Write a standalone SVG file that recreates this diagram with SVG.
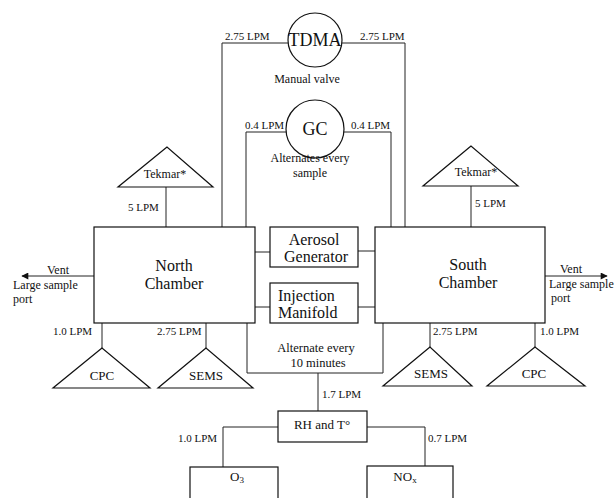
<svg xmlns="http://www.w3.org/2000/svg" width="615" height="498" viewBox="0 0 615 498">
<defs>
<style>
.bg{fill:#fff}
.ln{fill:none;stroke:#222;stroke-width:1}
.bx{fill:#fff;stroke:#111;stroke-width:1.2}
.t{font-family:"Liberation Serif","Times New Roman",serif;fill:#111}
.s11{font-size:11px}
.s12{font-size:12px}
.s125{font-size:12.5px}
.s13{font-size:13px}
.s16{font-size:16px}
.s18{font-size:18px}
.m{text-anchor:middle}
</style>
<marker id="ah" viewBox="0 0 10 10" refX="9" refY="5" markerWidth="9" markerHeight="7" orient="auto" markerUnits="userSpaceOnUse">
<path d="M0,0 L10,5 L0,10 z" fill="#111"/>
</marker>
</defs>
<rect class="bg" x="0" y="0" width="615" height="498"/>

<g id="connectors">
<polyline class="ln" points="222,227 222,43 288,43"/>
<polyline class="ln" points="342,43 405,43 405,227"/>
<polyline class="ln" points="246,227 246,132 287,132"/>
<polyline class="ln" points="343,132 391,132 391,227"/>
<line class="ln" x1="166" y1="187" x2="166" y2="227"/>
<line class="ln" x1="471" y1="186" x2="471" y2="227"/>
<line class="ln" x1="255" y1="252" x2="270" y2="252"/>
<line class="ln" x1="358" y1="251" x2="375" y2="251"/>
<line class="ln" x1="255" y1="307" x2="270" y2="307"/>
<line class="ln" x1="358" y1="307" x2="375" y2="307"/>
<line class="ln" x1="94" y1="276" x2="22" y2="276" marker-end="url(#ah)"/>
<line class="ln" x1="545" y1="276" x2="607" y2="276" marker-end="url(#ah)"/>
<line class="ln" x1="102" y1="323" x2="102" y2="348"/>
<line class="ln" x1="206" y1="323" x2="206" y2="348"/>
<line class="ln" x1="430" y1="323" x2="430" y2="347"/>
<line class="ln" x1="535" y1="323" x2="535" y2="347"/>
<polyline class="ln" points="247,323 247,373 383,373 383,323"/>
<line class="ln" x1="318" y1="373" x2="318" y2="411"/>
<polyline class="ln" points="278,427 223,427 223,467"/>
<polyline class="ln" points="367,427 425,427 425,466"/>
</g>

<g id="tdma">
<circle class="bx" cx="315" cy="40" r="27"/>
<text class="t s18 m" x="315" y="46">TDMA</text>
</g>
<g id="gc">
<circle class="bx" cx="315" cy="129" r="29"/>
<text class="t s18 m" x="315" y="135">GC</text>
</g>

<g id="tekmar-north">
<polygon class="bx" points="167,147 118,187 213,187"/>
<text class="t s12 m" x="165" y="178">Tekmar*</text>
</g>
<g id="tekmar-south">
<polygon class="bx" points="471,146 423,186 518,186"/>
<text class="t s12 m" x="476" y="176">Tekmar*</text>
</g>

<g id="north-chamber">
<rect class="bx" x="94" y="227" width="161" height="96"/>
<text class="t s16 m" x="174" y="271">North</text>
<text class="t s16 m" x="174" y="289">Chamber</text>
</g>
<g id="south-chamber">
<rect class="bx" x="375" y="227" width="170" height="96"/>
<text class="t s16 m" x="468" y="270">South</text>
<text class="t s16 m" x="468" y="288">Chamber</text>
</g>

<g id="aerosol-generator">
<rect class="bx" x="270" y="227" width="88" height="40"/>
<text class="t s16 m" x="314" y="245">Aerosol</text>
<text class="t s16 m" x="316" y="262">Generator</text>
</g>
<g id="injection-manifold">
<rect class="bx" x="270" y="283" width="88" height="40"/>
<text class="t s16" x="278" y="301">Injection</text>
<text class="t s16" x="278" y="318">Manifold</text>
</g>

<g id="cpc-north">
<polygon class="bx" points="102,348 53,388 150,388"/>
<text class="t s13 m" x="102" y="380">CPC</text>
</g>
<g id="sems-north">
<polygon class="bx" points="206,348 158,388 253,388"/>
<text class="t s13 m" x="206" y="380">SEMS</text>
</g>
<g id="sems-south">
<polygon class="bx" points="430,347 383,386 472,386"/>
<text class="t s13 m" x="431" y="378">SEMS</text>
</g>
<g id="cpc-south">
<polygon class="bx" points="535,347 487,386 585,386"/>
<text class="t s13 m" x="534" y="378">CPC</text>
</g>

<g id="rh-t">
<rect class="bx" x="278" y="411" width="89" height="31"/>
<text class="t s13 m" x="322" y="429">RH and T°</text>
</g>
<g id="o3">
<rect class="bx" x="190" y="467" width="88" height="40"/>
<text class="t s13 m" x="237" y="481">O<tspan font-size="9" dy="2">3</tspan></text>
</g>
<g id="nox">
<rect class="bx" x="367" y="466" width="86" height="40"/>
<text class="t s13 m" x="405" y="481">NO<tspan font-size="9" dy="2">x</tspan></text>
</g>

<g id="labels">
<text class="t s11" x="225" y="40">2.75 LPM</text>
<text class="t s11" x="360" y="40">2.75 LPM</text>
<text class="t s12 m" x="307" y="83">Manual valve</text>
<text class="t s11" x="245" y="129">0.4 LPM</text>
<text class="t s11" x="351" y="129">0.4 LPM</text>
<text class="t s12 m" x="310" y="162">Alternates every</text>
<text class="t s12 m" x="310" y="177">sample</text>
<text class="t s11" x="128" y="211">5 LPM</text>
<text class="t s11" x="475" y="207">5 LPM</text>
<text class="t s12" x="47" y="274">Vent</text>
<text class="t s12" x="13" y="289">Large sample</text>
<text class="t s12" x="13" y="303">port</text>
<text class="t s12" x="560" y="273">Vent</text>
<text class="t s12" x="549" y="288">Large sample</text>
<text class="t s12" x="551" y="302">port</text>
<text class="t s11" x="53" y="335">1.0 LPM</text>
<text class="t s11" x="157" y="335">2.75 LPM</text>
<text class="t s11" x="433" y="335">2.75 LPM</text>
<text class="t s11" x="540" y="335">1.0 LPM</text>
<text class="t s125 m" x="316" y="352">Alternate every</text>
<text class="t s125 m" x="318" y="367">10 minutes</text>
<text class="t s11" x="322" y="398">1.7 LPM</text>
<text class="t s11" x="178" y="442">1.0 LPM</text>
<text class="t s11" x="428" y="442">0.7 LPM</text>
</g>
</svg>
